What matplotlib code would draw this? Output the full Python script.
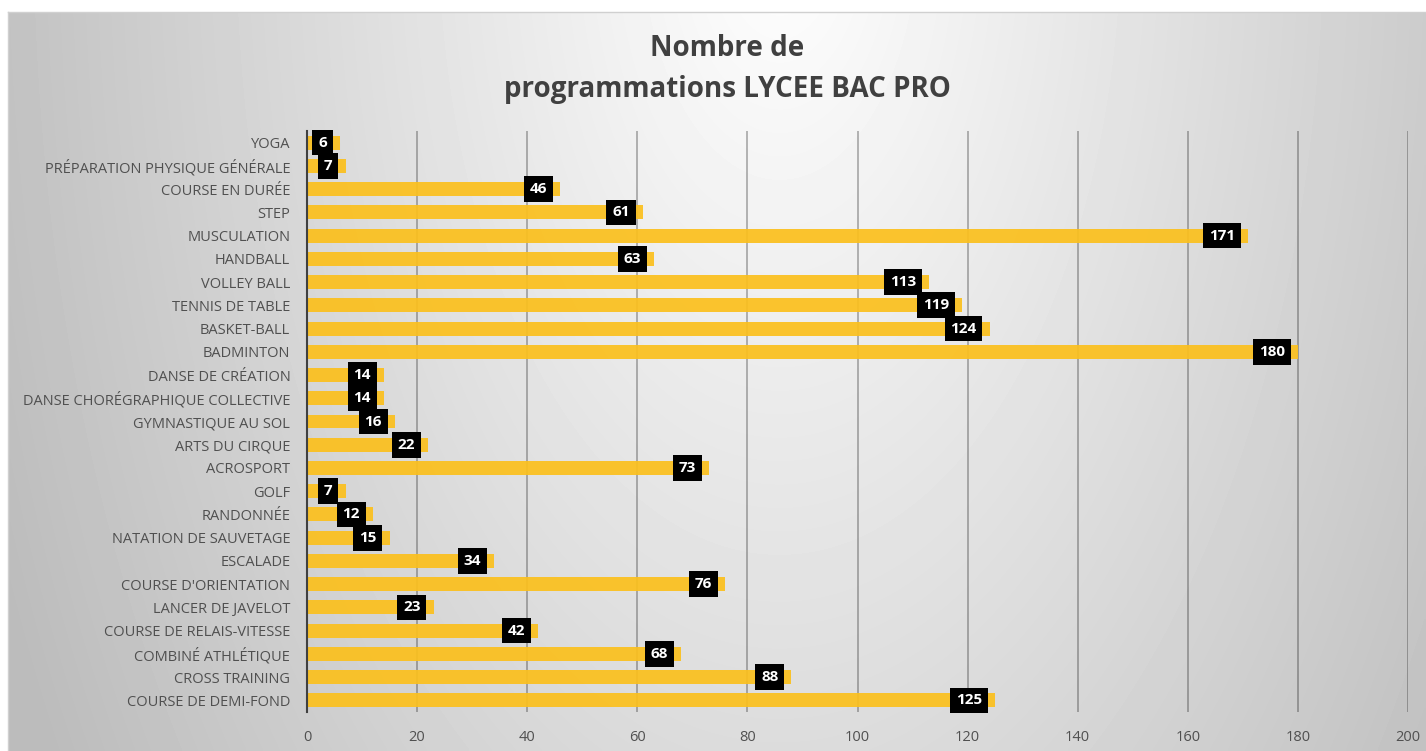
import numpy as np
import matplotlib
matplotlib.use("Agg")
import matplotlib.pyplot as plt

plt.rcParams["font.family"] = ["Open Sans", "DejaVu Sans"]

CATEGORIES = [
    "YOGA", "PRÉPARATION PHYSIQUE GÉNÉRALE", "COURSE EN DURÉE", "STEP",
    "MUSCULATION", "HANDBALL", "VOLLEY BALL", "TENNIS DE TABLE",
    "BASKET-BALL", "BADMINTON", "DANSE DE CRÉATION",
    "DANSE CHORÉGRAPHIQUE COLLECTIVE", "GYMNASTIQUE AU SOL",
    "ARTS DU CIRQUE", "ACROSPORT", "GOLF", "RANDONNÉE",
    "NATATION DE SAUVETAGE", "ESCALADE", "COURSE D'ORIENTATION",
    "LANCER DE JAVELOT", "COURSE DE RELAIS-VITESSE", "COMBINÉ ATHLÉTIQUE",
    "CROSS TRAINING", "COURSE DE DEMI-FOND",
]
VALUES = [6, 7, 46, 61, 171, 63, 113, 119, 124, 180, 14, 14, 16, 22, 73,
          7, 12, 15, 34, 76, 23, 42, 68, 88, 125]
X_TICKS = list(range(0, 201, 20))

W, H = 1426, 751
fig = plt.figure(figsize=(W / 100, H / 100), dpi=100, facecolor="white")

# background gradient (light at top centre, grey towards the corners)
bg = fig.add_axes([8 / W, 0, 1 - 8 / W, 1 - 12 / H], zorder=-2)
xx, yy = np.meshgrid(np.linspace(8, W, 400), np.linspace(12, H, 220))
d = np.sqrt(((xx - 780) / 700) ** 2 + ((yy + 80) / 1300) ** 2)
shade = np.clip(255 - 55 * d, 188, 255) / 255
bg.imshow(shade, cmap="gray", vmin=0, vmax=1, aspect="auto",
          extent=[0, 1, 0, 1], interpolation="bilinear")
bg.set_axis_off()
fig.add_artist(plt.Line2D([8 / W, 1], [1 - 12 / H] * 2, color="#d0d0d0", lw=1))
fig.add_artist(plt.Line2D([8 / W] * 2, [0, 1 - 12 / H], color="#d0d0d0", lw=1))

ax = fig.add_axes([307 / W, 1 - 712 / H, (1408 - 307) / W, (712 - 131) / H])
ax.patch.set_alpha(0)

y = np.arange(len(CATEGORIES))
ax.barh(y, VALUES, height=0.6, color="#fbc01e", alpha=0.93, zorder=3)

for yi, v in zip(y, VALUES):
    ax.annotate(str(v), (v, yi), xytext=(-13, 0), textcoords="offset pixels",
                ha="right", va="center", color="white", fontsize=11,
                fontweight="bold", zorder=5,
                bbox=dict(boxstyle="square,pad=0.38", fc="black", ec="none"))

ax.set_xlim(0, 200)
ax.set_ylim(len(CATEGORIES) - 0.5, -0.5)
ax.set_xticks(X_TICKS)
ax.set_yticks(y)
ax.set_yticklabels(CATEGORIES)
ax.tick_params(axis="both", length=0, labelsize=10.5, colors="#505050")
ax.tick_params(axis="y", pad=12)
ax.tick_params(axis="x", pad=13)
ax.grid(axis="x", color="black", alpha=0.32, lw=1.2, zorder=4)
ax.set_axisbelow(False)
for s in ["top", "right", "bottom"]:
    ax.spines[s].set_visible(False)
ax.spines["left"].set_color("#404040")
ax.spines["left"].set_linewidth(1.5)
ax.spines["left"].set_zorder(6)

fig.text(727 / W, 1 - 48 / H, "Nombre de", ha="center", va="center",
         fontsize=20, fontweight="bold", color="#404040")
fig.text(727 / W, 1 - 90 / H, "programmations LYCEE BAC PRO", ha="center",
         va="center", fontsize=20, fontweight="bold", color="#404040")

fig.savefig("out.png", dpi=100)
